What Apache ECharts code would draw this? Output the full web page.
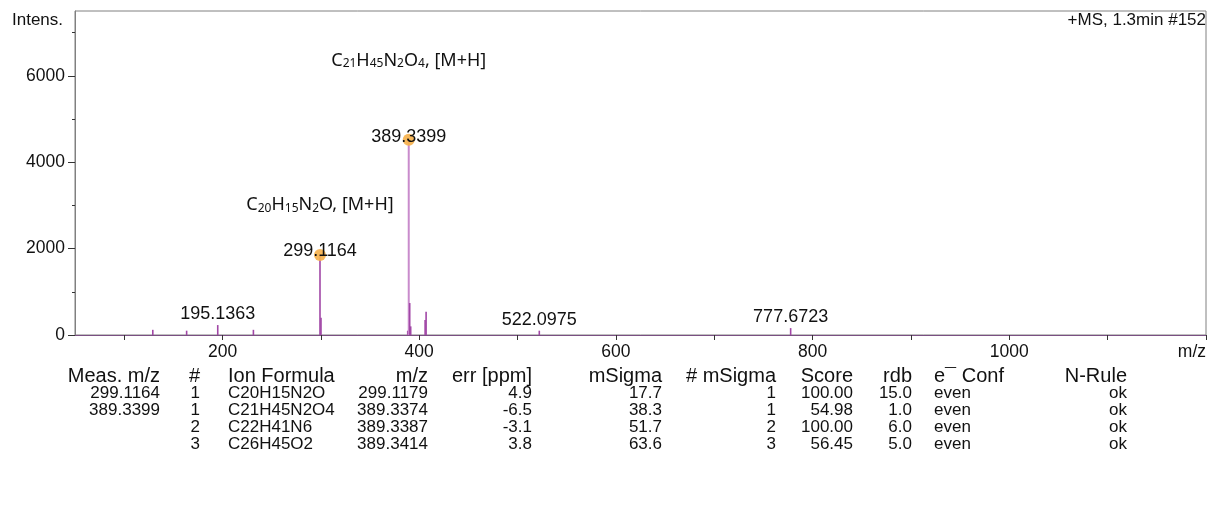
<!DOCTYPE html>
<html>
<head>
<meta charset="utf-8">
<script src="https://cdn.jsdelivr.net/npm/echarts@6/dist/echarts.min.js"></script>
<style>
  html, body { margin: 0; padding: 0; background: #ffffff; }
  #chart { width: 1220px; height: 508px; }
</style>
</head>
<body>
<div id="chart"></div>
<script>
// Stick spectrum: m/z and intensity of each peak
const peakMz        = [129.1, 163.5, 195.1363, 231.4, 299.1164, 300.12, 388.3, 389.3399, 390.34, 391.34, 406.0, 407.0, 522.0975, 777.6723];
const peakIntensity = [120,   100,   230,      120,   1850,     400,    100,   4520,     740,    200,    350,   540,   100,      160];

// Peaks carrying an m/z label
const labeledMz = [195.1363, 299.1164, 389.3399, 522.0975, 777.6723];
// Peaks with an assigned sum formula (orange marker + formula annotation)
const assignedMz = [299.1164, 389.3399];
const assignedFormula = ['C20H15N2O', 'C21H45N2O4'];
const assignedAdduct = ['[M+H]', '[M+H]'];

// Axis ticks
const xTickValues  = [100, 200, 300, 400, 500, 600, 700, 800, 900, 1000, 1100, 1200];
const xLabelValues = [200, 400, 600, 800, 1000, 1200];
const yMajorValues = [0, 2000, 4000, 6000];
const yMinorValues = [1000, 3000, 5000, 7000];

// Formula table
const tableHeader   = ['Meas. m/z', '#', 'Ion Formula', 'm/z', 'err [ppm]', 'mSigma', '# mSigma', 'Score', 'rdb', 'e\u00AF Conf', 'N-Rule'];
const colMeasMz     = ['299.1164', '389.3399', '', ''];
const colRank       = ['1', '1', '2', '3'];
const colFormula    = ['C20H15N2O', 'C21H45N2O4', 'C22H41N6', 'C26H45O2'];
const colCalcMz     = ['299.1179', '389.3374', '389.3387', '389.3414'];
const colErrPpm     = ['4.9', '-6.5', '-3.1', '3.8'];
const colMSigma     = ['17.7', '38.3', '51.7', '63.6'];
const colMSigmaRank = ['1', '1', '2', '3'];
const colScore      = ['100.00', '54.98', '100.00', '56.45'];
const colRdb        = ['15.0', '1.0', '6.0', '5.0'];
const colEConf      = ['even', 'even', 'even', 'even'];
const colNRule      = ['ok', 'ok', 'ok', 'ok'];

const ARIAL = 'Liberation Sans, Arial, sans-serif';
const intensityOf = mz => peakIntensity[peakMz.indexOf(mz)];

// Formula string -> rich text with subscripted counts
function formulaRich(f, adduct) {
  return '{n|' + f.replace(/(\d+)/g, '}{s|$1}{n|') + ', ' + adduct + '}';
}

// Table layout: column anchor x and alignment
const tableCols = [
  { x: 160,  align: 'right', values: colMeasMz },
  { x: 200,  align: 'right', values: colRank },
  { x: 228,  align: 'left',  values: colFormula },
  { x: 428,  align: 'right', values: colCalcMz },
  { x: 532,  align: 'right', values: colErrPpm },
  { x: 662,  align: 'right', values: colMSigma },
  { x: 776,  align: 'right', values: colMSigmaRank },
  { x: 853,  align: 'right', values: colScore },
  { x: 912,  align: 'right', values: colRdb },
  { x: 934,  align: 'left',  values: colEConf },
  { x: 1127, align: 'right', values: colNRule }
];
const headerY = 376, rowY0 = 393, rowStep = 17;

const graphics = [
  { type: 'text', left: 12, top: 12, style: { text: 'Intens.', font: '17px ' + ARIAL, fill: '#111' } },
  { type: 'text', right: 14, top: 12, style: { text: '+MS, 1.3min #152', font: '17px ' + ARIAL, fill: '#111' } }
];
tableCols.forEach((c, ci) => {
  graphics.push({ type: 'text', x: c.x, y: headerY,
    style: { text: tableHeader[ci], font: '20px ' + ARIAL, fill: '#111', align: c.align, verticalAlign: 'middle' } });
  c.values.forEach((v, ri) => {
    if (!v) return;
    graphics.push({ type: 'text', x: c.x, y: rowY0 + ri * rowStep,
      style: { text: v, font: '17px ' + ARIAL, fill: '#111', align: c.align, verticalAlign: 'middle' } });
  });
});

const chart = echarts.init(document.getElementById('chart'), null, { renderer: 'canvas' });

const labelOffsets = { 299.1164: [0, -4], 389.3399: [0, -3] };
const formulaOffsets = [[0, -52], [0, -81]];

chart.setOption({
  animation: false,
  backgroundColor: '#ffffff',
  grid: { left: 75, right: 14, top: 11, bottom: 173, show: true, borderColor: '#808080', borderWidth: 1 },
  xAxis: {
    type: 'value', min: 50, max: 1200,
    axisLine: { show: true, lineStyle: { color: '#7a4f82', width: 1.2 } },
    axisTick: { show: true, customValues: xTickValues, length: 5, lineStyle: { color: '#333' } },
    axisLabel: {
      customValues: xLabelValues, margin: 8, fontSize: 17.5, fontFamily: ARIAL, color: '#111',
      alignMaxLabel: 'right',
      formatter: v => (v === 1200 ? 'm/z' : String(v))
    },
    splitLine: { show: false }
  },
  yAxis: [
    {
      type: 'value', min: 0, max: 7500,
      axisLine: { show: true, lineStyle: { color: '#808080' } },
      axisTick: { show: true, customValues: yMajorValues, length: 7, lineStyle: { color: '#333' } },
      axisLabel: { customValues: yMajorValues, margin: 10, fontSize: 17.5, fontFamily: ARIAL, color: '#111',
        formatter: v => String(v) },
      splitLine: { show: false }
    },
    {
      type: 'value', min: 0, max: 7500, position: 'left',
      axisLine: { show: false },
      axisTick: { show: true, customValues: yMinorValues, length: 3, lineStyle: { color: '#333' } },
      axisLabel: { show: false },
      splitLine: { show: false }
    }
  ],
  series: [
    {
      // vertical sticks from zero to the peak intensity
      type: 'custom', z: 2,
      data: peakMz.map((m, i) => [m, peakIntensity[i]]),
      renderItem: (params, api) => {
        const m = api.value(0), h = api.value(1);
        const p0 = api.coord([m, 0]), p1 = api.coord([m, h]);
        const tall = h > 3000;
        return {
          type: 'line',
          shape: { x1: p0[0], y1: p0[1], x2: p1[0], y2: p1[1] },
          style: { stroke: tall ? '#c98bcc' : '#a147a6', lineWidth: tall ? 2 : 1.6 }
        };
      }
    },
    {
      // assigned compounds
      type: 'scatter', z: 3, symbol: 'circle', symbolSize: 12,
      itemStyle: { color: '#f6b24d', opacity: 0.92 },
      data: assignedMz.map(m => [m, intensityOf(m)])
    },
    {
      // m/z labels of the main peaks
      type: 'scatter', z: 4, symbolSize: 0,
      itemStyle: { opacity: 1 },
      data: labeledMz.map(m => ({
        value: [m, intensityOf(m)],
        label: { offset: labelOffsets[m] || [0, -11] }
      })),
      label: {
        show: true, position: 'inside', fontSize: 18, fontFamily: ARIAL, color: '#111',
        formatter: p => p.value[0].toFixed(4)
      }
    },
    {
      // sum formula annotations of the assigned peaks
      type: 'scatter', z: 4, symbolSize: 0,
      itemStyle: { opacity: 1 },
      data: assignedMz.map((m, i) => ({
        value: [m, intensityOf(m)],
        label: {
          offset: formulaOffsets[i],
          formatter: formulaRich(assignedFormula[i], assignedAdduct[i])
        }
      })),
      label: {
        show: true, position: 'inside',
        rich: {
          n: { fontFamily: 'Noto Sans', fontSize: 18, color: '#111', lineHeight: 22, verticalAlign: 'bottom' },
          s: { fontFamily: 'Noto Sans', fontSize: 12, color: '#111', lineHeight: 12, verticalAlign: 'bottom' }
        }
      }
    }
  ],
  graphic: graphics
});
</script>
</body>
</html>
